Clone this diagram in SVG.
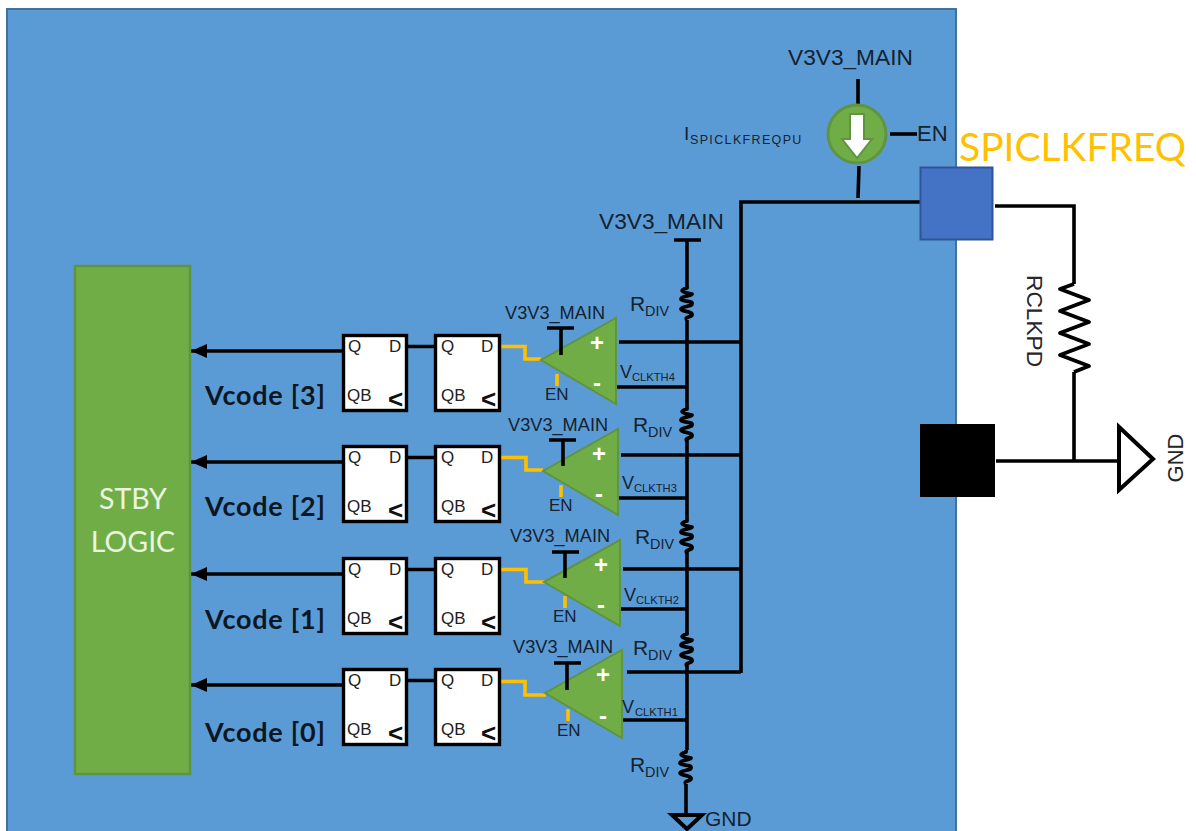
<svg xmlns="http://www.w3.org/2000/svg" width="1196" height="831" viewBox="0 0 1196 831">
<defs>
<style>
text{font-family:"Liberation Sans",Arial,sans-serif;fill:#14222f}
.w{fill:none;stroke:#000;stroke-width:3.6}
.y{fill:none;stroke:#FFC000;stroke-width:3.6}
.ff{fill:#fff;stroke:#000;stroke-width:3.4}
.ft{font-size:17px;fill:#222}
.ck{font-size:26px;font-weight:700;fill:#111}
.cmp{fill:#70AD47;stroke:#5f9440;stroke-width:2}
.vm{font-size:18.200px}
.vt{font-size:22.700px}
.en{font-size:17px}
.r{font-size:21px}
.rs{font-size:14.400px}
.v{font-size:18px}
.vs{font-size:11.200px}
.pm{font-size:24px;font-weight:700;fill:#fff;text-anchor:middle}
.code{font-family:Lato,"Liberation Sans",sans-serif;font-size:27px;font-weight:700;fill:#0c1722}
.log{font-family:Lato,"Liberation Sans",sans-serif;font-size:28.500px;fill:#eaf5e0;text-anchor:middle}
.res{fill:none;stroke:#000;stroke-width:3.8;stroke-linejoin:round}
.out{fill:#262626}
</style>
<path id="coil" class="res" d="M0 0L0 2C-7 4 -7 6 5 8C5 10 -6 10 -6 13C-6 16 6 14 5 18C5 21 -6 20 -6 23C-6 26 6 25 5 29C5 31 -3 31 0 34"/>
<marker id="ah" markerWidth="16" markerHeight="14" refX="16" refY="7" orient="auto" markerUnits="userSpaceOnUse"><path d="M0 0L16 7L0 14Z" fill="#000"/></marker>
</defs>
<g id="chip"><rect x="7" y="9" width="949" height="830" fill="#5B9BD5" stroke="#41719C" stroke-width="2"/></g>
<g id="connectors">
<path class="w" d="M921 202H741V673"/>
<path class="w" d="M858 79V105M859 166L858 198"/>
<path class="w" d="M890 134H917"/>
<path class="w" d="M674 240H701M687 240V286M687 320V407M687 440V519M687 552V632M687 665V750M686 784V814"/>
<path class="w" d="M995 206H1074V284M1074 372V461M996 461H1118"/>
<path class="w" d="M619 342H741M621 455H741M623 569H741M627 672H741"/>
<path class="w" d="M617 387H687M619 498H687M621 609H687M621 720H687"/>
<path class="w" d="M342 351H191" marker-end="url(#ah)"/>
<path class="w" d="M342 462H191" marker-end="url(#ah)"/>
<path class="w" d="M342 574H191" marker-end="url(#ah)"/>
<path class="w" d="M342 685H191" marker-end="url(#ah)"/>
<path class="w" d="M408 346.500H434M408 457.500H434M408 569.500H434M408 680.500H434"/>
<path class="y" d="M500 346.500H525V359H541M500 457.500H526V470H543M500 569.500H526V582H545M500 681.500H525V695H546"/>
<path class="y" d="M557 374V386M561 485V497M565 596V608M568 709V721"/>
<use href="#coil" x="687" y="286"/><use href="#coil" x="687" y="407"/><use href="#coil" x="687" y="519"/><use href="#coil" x="687" y="632"/><use href="#coil" x="686" y="750"/>
<path class="res" d="M1074 284L1060 289L1089 300L1060 311L1089 322L1060 333L1089 344L1060 355L1089 366L1074 372"/>
</g>
<g id="stby"><rect x="75" y="266" width="115" height="508" fill="#70AD47" stroke="#5f9440" stroke-width="2.500"/><text class="log" x="133" y="509">STBY</text><text class="log" x="133" y="552">LOGIC</text></g>
<g id="vcode"><text class="code" x="205" y="405" textLength="120">Vcode [3]</text><text class="code" x="205" y="516" textLength="120">Vcode [2]</text><text class="code" x="205" y="629" textLength="120">Vcode [1]</text><text class="code" x="205" y="742" textLength="120">Vcode [0]</text></g>
<g id="ff3a"><rect class="ff" x="343.500" y="335.500" width="63" height="75"/><text class="ft" x="348" y="352">Q</text><text class="ft" x="389" y="352">D</text><text class="ft" x="347" y="401">QB</text><text class="ck" x="388" y="408">&lt;</text></g>
<g id="ff3b"><rect class="ff" x="435.500" y="335.500" width="64" height="75"/><text class="ft" x="441" y="352">Q</text><text class="ft" x="481" y="352">D</text><text class="ft" x="441" y="401">QB</text><text class="ck" x="481" y="408">&lt;</text></g>
<g id="ff2a"><rect class="ff" x="343.500" y="446.500" width="63" height="75"/><text class="ft" x="348" y="463">Q</text><text class="ft" x="389" y="463">D</text><text class="ft" x="347" y="512">QB</text><text class="ck" x="388" y="519">&lt;</text></g>
<g id="ff2b"><rect class="ff" x="435.500" y="446.500" width="64" height="75"/><text class="ft" x="441" y="463">Q</text><text class="ft" x="481" y="463">D</text><text class="ft" x="441" y="512">QB</text><text class="ck" x="481" y="519">&lt;</text></g>
<g id="ff1a"><rect class="ff" x="343.500" y="558.500" width="63" height="75"/><text class="ft" x="348" y="575">Q</text><text class="ft" x="389" y="575">D</text><text class="ft" x="347" y="624">QB</text><text class="ck" x="388" y="631">&lt;</text></g>
<g id="ff1b"><rect class="ff" x="435.500" y="558.500" width="64" height="75"/><text class="ft" x="441" y="575">Q</text><text class="ft" x="481" y="575">D</text><text class="ft" x="441" y="624">QB</text><text class="ck" x="481" y="631">&lt;</text></g>
<g id="ff0a"><rect class="ff" x="343.500" y="669.500" width="63" height="75"/><text class="ft" x="348" y="686">Q</text><text class="ft" x="389" y="686">D</text><text class="ft" x="347" y="735">QB</text><text class="ck" x="388" y="742">&lt;</text></g>
<g id="ff0b"><rect class="ff" x="435.500" y="669.500" width="64" height="75"/><text class="ft" x="441" y="686">Q</text><text class="ft" x="481" y="686">D</text><text class="ft" x="441" y="735">QB</text><text class="ck" x="481" y="742">&lt;</text></g>
<g id="cmp3"><path class="cmp" d="M541 360L616 318V404Z"/><text class="pm" x="597" y="351">+</text><text class="pm" x="597" y="391">-</text><path class="w" d="M547 328H574M561 328V355"/><text class="vm" x="505" y="319">V3V3_MAIN</text><text class="en" x="545" y="400">EN</text><text class="v" x="620" y="378">V</text><text class="vs" x="632" y="381">CLKTH4</text></g>
<g id="cmp2"><path class="cmp" d="M543 471L618 429V515Z"/><text class="pm" x="599" y="462">+</text><text class="pm" x="599" y="502">-</text><path class="w" d="M549 440H576M563 440V466"/><text class="vm" x="508" y="431">V3V3_MAIN</text><text class="en" x="549" y="511">EN</text><text class="v" x="622" y="489">V</text><text class="vs" x="634" y="492">CLKTH3</text></g>
<g id="cmp1"><path class="cmp" d="M544 582L620 540V626Z"/><text class="pm" x="601" y="573">+</text><text class="pm" x="601" y="613">-</text><path class="w" d="M552 552H579M565 552V578"/><text class="vm" x="510" y="542">V3V3_MAIN</text><text class="en" x="553" y="622">EN</text><text class="v" x="624" y="601">V</text><text class="vs" x="636" y="604">CLKTH2</text></g>
<g id="cmp0"><path class="cmp" d="M545 693L622 650V738Z"/><text class="pm" x="603" y="683">+</text><text class="pm" x="603" y="724">-</text><path class="w" d="M554 663H581M567 663V690"/><text class="vm" x="513" y="653">V3V3_MAIN</text><text class="en" x="557" y="736">EN</text><text class="v" x="622" y="713">V</text><text class="vs" x="635" y="716">CLKTH1</text></g>
<g id="rdiv"><text class="r" x="630" y="311">R</text><text class="rs" x="645" y="316">DIV</text><text class="r" x="633" y="432">R</text><text class="rs" x="648" y="437">DIV</text><text class="r" x="635" y="544">R</text><text class="rs" x="650" y="549">DIV</text><text class="r" x="633" y="655">R</text><text class="rs" x="648" y="660">DIV</text><text class="r" x="630" y="772">R</text><text class="rs" x="645" y="777">DIV</text></g>
<g id="vmain-top"><text class="vt" x="599" y="229">V3V3_MAIN</text><text class="vt" x="788" y="65">V3V3_MAIN</text></g>
<g id="isrc"><circle cx="857" cy="134" r="29" fill="#70AD47" stroke="#5f9440" stroke-width="3"/><path d="M850 114H864V139H872L857 158L842 139H850Z" fill="#fff" stroke="#5f9440" stroke-width="2"/><text x="684" y="140" font-size="19">I</text><text x="690" y="144" font-size="12.500" letter-spacing="1.350">SPICLKFREQPU</text><text x="917" y="141" font-size="22">EN</text></g>
<g id="pin1"><rect x="920.500" y="167.500" width="72" height="72" fill="#4472C4" stroke="#2F5597" stroke-width="2"/><text x="959" y="161" font-size="39" style="fill:#FFC000;font-family:Lato,'Liberation Sans',sans-serif">SPICLKFREQ</text></g>
<g id="pin2"><rect x="920" y="424" width="75" height="73" fill="#000"/></g>
<g id="rclk"><text class="out" x="1027" y="275" font-size="22.700" transform="rotate(90 1027 275)">RCLKPD</text></g>
<g id="gnd-right"><path d="M1119 427V490L1153 459Z" fill="#fff" stroke="#000" stroke-width="4"/><text class="out" x="1183" y="458" font-size="22" text-anchor="middle" transform="rotate(-90 1183 458)">GND</text></g>
<g id="gnd-bottom"><path d="M672 815H702L687 829Z" fill="none" stroke="#000" stroke-width="4"/><text x="705" y="826" font-size="21">GND</text></g>
</svg>
